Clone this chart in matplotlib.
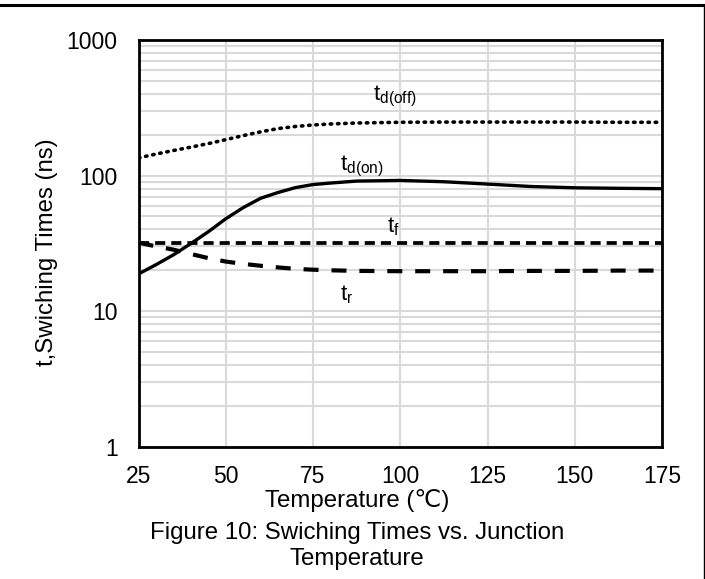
import matplotlib.pyplot as plt
from matplotlib.lines import Line2D
from matplotlib.ticker import LogLocator, NullFormatter

plt.rcParams['font.family'] = ['Liberation Sans', 'DejaVu Sans']

# temperature points (°C)
temp = [25, 30, 35, 40, 45, 50, 55, 60, 65, 70, 75, 80, 87.5, 100,
        112.5, 125, 137.5, 150, 162.5, 175]

# switching times (ns)
td_off = [135, 144, 153, 162, 172, 184, 197, 210, 222, 230, 236, 240, 244, 247,
          248, 248, 248, 248, 247, 247]
td_on = [18.8, 22, 26, 31.5, 38.5, 48, 58, 68, 75, 81.5, 85.8, 88, 91, 92,
         90, 86.5, 83, 81.2, 80.5, 80]
t_f = [32, 32, 32, 32, 32, 32, 32, 32, 32, 32, 32, 32, 32, 32,
       32, 32, 32, 32, 32, 32]
t_r = [32, 30, 28.4, 26.4, 24.6, 23.2, 22.3, 21.6, 21, 20.5, 20.2, 20, 19.8, 19.7,
       19.7, 19.7, 19.8, 19.8, 19.9, 19.9]

xticks = [25, 50, 75, 100, 125, 150, 175]
yticks = [1, 10, 100, 1000]
ytick_labels = ['1', '10', '100', '1000']

fig = plt.figure(figsize=(7.05, 5.79), dpi=100)
ax = fig.add_axes([0.1965, 0.2285, 0.7425, 0.7025])

ax.plot(temp, td_off, color='black', lw=2.6, linestyle=(0, (0.4, 1.6)),
        dash_capstyle='round')
ax.plot(temp, td_on, color='black', lw=2.4, linestyle='-')
ax.plot(temp, t_f, color='black', lw=2.7, linestyle=(0, (2.7, 1.6)))
ax.plot(temp, t_r, color='black', lw=3.0, linestyle=(0, (3.6, 3.1)))

ax.set_yscale('log')
ax.set_xlim(25, 175)
ax.set_ylim(1, 1000)
ax.set_xticks(xticks)
ax.set_yticks(yticks)
ax.set_yticklabels(ytick_labels)
ax.yaxis.set_minor_locator(LogLocator(base=10, subs=range(2, 10)))
ax.yaxis.set_minor_formatter(NullFormatter())
ax.tick_params(which='both', length=0, labelsize=16.5)
ax.tick_params(axis='x', pad=13.5)
ax.tick_params(axis='y', pad=15)

ax.grid(True, which='major', color='#d9d9d9', lw=1.5)
ax.grid(True, which='minor', axis='y', color='#d9d9d9', lw=1.5)
ax.set_axisbelow(True)
for s in ax.spines.values():
    s.set_linewidth(2)
    s.set_color('black')

# curve labels
ax.text(98.4, 385, r'$\mathregular{t_{d(off)}}$', fontsize=16, ha='center', va='center')
ax.text(89, 117, r'$\mathregular{t_{d(on)}}$', fontsize=16, ha='center', va='center')
ax.text(97.9, 42, r'$\mathregular{t_f}$', fontsize=16, ha='center', va='center')
ax.text(84.5, 13.2, r'$\mathregular{t_r}$', fontsize=16, ha='center', va='center')

ax.set_xlabel('Temperature (℃)', fontsize=17.3)
ax.xaxis.set_label_coords(0.417, -0.103)
ax.set_ylabel('t,Swiching Times (ns)', fontsize=17.3, va='center')
ax.yaxis.set_label_coords(-0.174, 0.478)

fig.text(357 / 705, 1 - 533 / 579, 'Figure 10: Swiching Times vs. Junction',
         fontsize=17.3, ha='center', va='center')
fig.text(357 / 705, 1 - 559 / 579, 'Temperature',
         fontsize=17.3, ha='center', va='center')

# frame around the figure (top and right edges)
fig.add_artist(Line2D([0, 1], [1 - 4.5 / 579, 1 - 4.5 / 579], color='black',
                      lw=2.2, transform=fig.transFigure))
fig.add_artist(Line2D([703.5 / 705, 703.5 / 705], [0, 1 - 4.5 / 579], color='black',
                      lw=1.0, transform=fig.transFigure))

fig.savefig('out.png', dpi=100)
